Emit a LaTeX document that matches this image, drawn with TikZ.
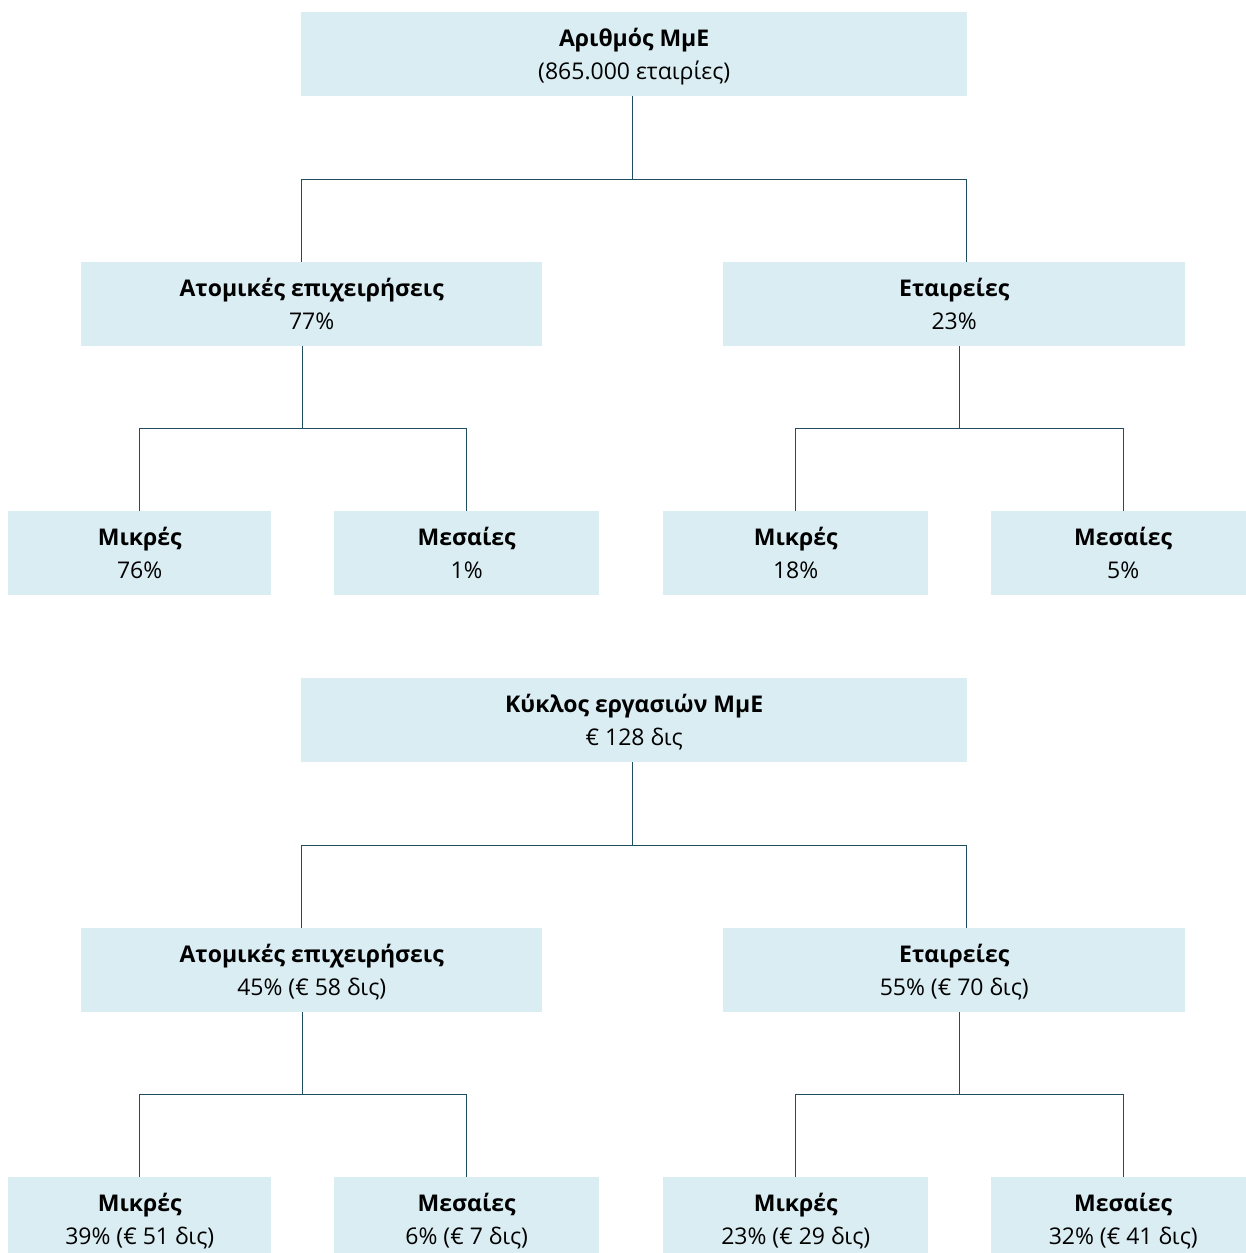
\documentclass[tikz,border=0pt]{standalone}
\usepackage{fontspec}
\setmainfont{Open Sans}
\definecolor{boxfill}{HTML}{DAEDF3}
\definecolor{linec}{HTML}{1F4E5F}
\newcommand{\mkbox}[6]{% name, x1,y1,x2,y2, text
  \node[box,minimum width=#4-#2,minimum height=#5-#3,anchor=north west] (#1) at (#2,#3) {#6};}
\newcommand{\mktree}[9]{%
  \mkbox{#10}{301}{12}{967}{96}{\textbf{#2}\\#3}
  \mkbox{#11}{81}{262}{542}{346}{\textbf{Ατομικές επιχειρήσεις}\\#4}
  \mkbox{#12}{723}{262}{1185}{346}{\textbf{Εταιρείες}\\#5}
  \mkbox{#13}{8}{511}{271}{595}{\textbf{Μικρές}\\#6}
  \mkbox{#14}{334}{511}{599}{595}{\textbf{Μεσαίες}\\#7}
  \mkbox{#15}{663}{511}{928}{595}{\textbf{Μικρές}\\#8}
  \mkbox{#16}{991}{511}{1255}{595}{\textbf{Μεσαίες}\\#9}
  \draw[conn] ([xshift=-2]#10.south) -- ++(0,83) -| ([xshift=-10]#11.north);
  \draw[conn] ([xshift=-2]#10.south) -- ++(0,83) -| ([xshift=12]#12.north);
  \draw[conn] ([xshift=-9.5]#11.south) -- ++(0,82) -| (#13.north);
  \draw[conn] ([xshift=-9.5]#11.south) -- ++(0,82) -| (#14.north);
  \draw[conn] ([xshift=5]#12.south) -- ++(0,82) -| (#15.north);
  \draw[conn] ([xshift=5]#12.south) -- ++(0,82) -| (#16.north);}
\begin{document}
\begin{tikzpicture}[x=1pt,y=-1pt,
  box/.style={fill=boxfill,draw=none,inner sep=0pt,align=center,
    font=\fontsize{23}{33}\selectfont,text depth=-4pt},
  conn/.style={draw=linec,line width=1pt}]
\useasboundingbox (0,0) rectangle (1245,1253);
\mktree{a}{Αριθμός ΜμΕ}{(865.000 εταιρίες)}{77\%}{23\%}{76\%}{1\%}{18\%}{5\%}
\begin{scope}[yshift=-666pt]
\mktree{b}{Κύκλος εργασιών ΜμΕ}{€ 128 δις}{45\% (€ 58 δις)}{55\% (€ 70 δις)}{39\% (€ 51 δις)}{6\% (€ 7 δις)}{23\% (€ 29 δις)}{32\% (€ 41 δις)}
\end{scope}
\end{tikzpicture}
\end{document}
